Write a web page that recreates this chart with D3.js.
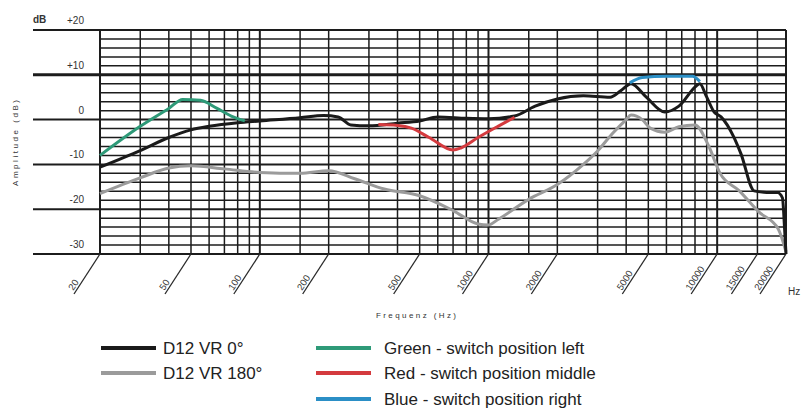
<!DOCTYPE html>
<html>
<head>
<meta charset="utf-8">
<script src="https://cdn.jsdelivr.net/npm/d3@7"></script>
<style>
  body { margin: 0; background: #fff; }
  text { font-family: "Liberation Sans", Arial, sans-serif; }
</style>
</head>
<body>
<svg id="chart" width="803" height="412"></svg>
<script>
// grid + tick labels
var gridFreqs = [20,30,40,50,60,70,80,90,100,150,200,300,400,500,600,700,800,900,
                 1000,1500,2000,3000,4000,5000,6000,7000,8000,9000,10000,15000,20000];
var freqLabels = [20,50,100,200,500,1000,2000,5000,10000,15000,20000];
var dbLabels = [20,10,0,-10,-20,-30];

// D12 VR 0 deg
var freq0 = [20,30,40,50,60,80,100,150,190,220,250,300,400,500,600,800,1000,1300,1600,2000,
             2600,3400,3800,4200,4900,5900,6800,8100,8400,8950,9700,10400,11800,12700,14500,
             16000,18400,19300,19700,20000];
var db0 = [-10.6,-6.9,-4,-2.3,-1.5,-0.7,-0.3,0.4,0.9,0.6,-1.2,-1.4,-0.8,-0.3,0.6,0.3,0.2,0.8,3,4.6,
           5.3,5,6.5,8,5,1.7,3,7.5,8,5.3,1.7,0.6,-3.8,-7.6,-15.9,
           -16.2,-16.3,-17.5,-24,-30];

// D12 VR 180 deg
var freq180 = [20,30,40,50,70,100,150,200,260,350,500,700,900,1000,1100,1500,2000,2600,3000,3500,
               4000,4200,4700,5100,5900,6800,8000,9200,10300,12500,15200,18500,20000];
var db180 = [-16.5,-13,-10.8,-10.3,-11,-11.8,-12,-11.4,-13.2,-15.5,-17,-20.3,-23.3,-23.5,-22.3,-17.8,-14.5,-10,-7,-3,
             0,1,0,-1.9,-2.8,-1.6,-1.2,-6,-12,-15.9,-20.6,-24.4,-29.5];

// switch positions
var freqGreen = [20,30,40,46,55,65,75,86];
var dbGreen = [-8,-1.5,2.5,4.5,4.3,2.5,0.8,-0.3];
var freqRed = [330,400,460,550,700,760,900,1100,1300];
var dbRed = [-1.1,-1.3,-1.9,-4,-6.8,-6.3,-4,-1.5,0.5];
var freqBlue = [4150,4700,6000,7800,8400];
var dbBlue = [8.2,9.4,9.7,9.7,8.5];

var legendKeys = ["D12 VR 0°", "D12 VR 180°", "Green - switch position left",
                  "Red - switch position middle", "Blue - switch position right"];

var svg = d3.select("#chart");

var x = d3.scaleLog().domain([20, 20000]).range([100, 786]);
var y = d3.scaleLinear().domain([-30, 20]).range([254, 30]);

var grid = svg.append("g").attr("stroke", "#1c1c1c");

// horizontal grid every 2 dB
grid.selectAll(".h")
  .data(d3.range(-30, 21, 2).filter(function(d) { return d % 10 != 0; }))
  .enter().append("line")
  .attr("x1", x(20)).attr("x2", x(20000))
  .attr("y1", function(d) { return y(d); })
  .attr("y2", function(d) { return y(d); })
  .attr("stroke-width", 1.5);

// vertical grid
grid.selectAll(".v")
  .data(gridFreqs)
  .enter().append("line")
  .attr("x1", function(d) { return x(d); })
  .attr("x2", function(d) { return x(d); })
  .attr("y1", y(20)).attr("y2", y(-30))
  .attr("stroke-width", function(d) { return (d == 20 || d == 100 || d == 1000 || d == 10000 || d == 20000) ? 2 : 1.5; });

// 10 dB lines, reaching out to the label column
grid.selectAll(".major")
  .data(dbLabels)
  .enter().append("line")
  .attr("x1", 33).attr("x2", x(20000))
  .attr("y1", function(d) { return y(d); })
  .attr("y2", function(d) { return y(d); })
  .attr("stroke-width", function(d) { return d == 10 ? 3 : 2; });

// y labels
svg.append("g")
  .attr("font-size", 10)
  .attr("fill", "#333")
  .attr("text-anchor", "end")
  .selectAll("text")
  .data(dbLabels)
  .enter().append("text")
  .attr("x", 84)
  .attr("y", function(d) { return y(d) - 6; })
  .text(function(d) { return d > 0 ? "+" + d : d; });

svg.append("text")
  .attr("x", 33).attr("y", 23)
  .attr("font-size", 10).attr("font-weight", "bold").attr("fill", "#333")
  .text("dB");

svg.append("text")
  .attr("transform", "translate(18,143) rotate(-90)")
  .attr("text-anchor", "middle")
  .attr("font-size", 8).attr("fill", "#333")
  .attr("textLength", 86).attr("lengthAdjust", "spacing")
  .text("Amplitude (dB)");

// slanted frequency ticks
var xt = svg.append("g").selectAll("g")
  .data(freqLabels)
  .enter().append("g")
  .attr("transform", function(d) { return "translate(" + x(d) + "," + y(-30) + ")"; });

xt.append("line")
  .attr("x1", 0).attr("y1", 0)
  .attr("x2", -26).attr("y2", 40)
  .attr("stroke", "#2a2a2a").attr("stroke-width", 1.3);

xt.append("text")
  .attr("transform", "translate(-25,38) rotate(-57)")
  .attr("y", -2)
  .attr("font-size", 9.5)
  .attr("fill", "#333")
  .text(function(d) { return d; });

svg.append("text")
  .attr("x", 788).attr("y", 295)
  .attr("font-size", 10).attr("fill", "#333")
  .text("Hz");

svg.append("text")
  .attr("x", 376).attr("y", 318)
  .attr("font-size", 8).attr("fill", "#333")
  .attr("textLength", 80).attr("lengthAdjust", "spacing")
  .text("Frequenz (Hz)");

// curves
var line = d3.line()
  .x(function(d) { return x(d[0]); })
  .y(function(d) { return y(d[1]); })
  .curve(d3.curveMonotoneX);

var series = [
  { f: freq180, v: db180, color: "#9b9b9b" },
  { f: freq0, v: db0, color: "#1a1a1a" },
  { f: freqGreen, v: dbGreen, color: "#2e9a78" },
  { f: freqRed, v: dbRed, color: "#d43a3e" },
  { f: freqBlue, v: dbBlue, color: "#2b8fc6" }
];

svg.append("g").selectAll("path")
  .data(series)
  .enter().append("path")
  .attr("d", function(s) { return line(d3.zip(s.f, s.v)); })
  .attr("fill", "none")
  .attr("stroke", function(s) { return s.color; })
  .attr("stroke-width", 3)
  .attr("stroke-linejoin", "round");

// legend
var legendColors = ["#1a1a1a", "#9b9b9b", "#2e9a78", "#d43a3e", "#2b8fc6"];
var legendX = [101, 101, 316, 316, 316];
var legendY = [348, 373, 348, 373, 399];

var legend = svg.append("g")
  .selectAll("g")
  .data(legendKeys)
  .enter().append("g")
  .attr("transform", function(d, i) { return "translate(" + legendX[i] + "," + legendY[i] + ")"; });

legend.append("line")
  .attr("x1", 0).attr("x2", 55)
  .attr("stroke", function(d, i) { return legendColors[i]; })
  .attr("stroke-width", 4);

legend.append("text")
  .attr("x", function(d, i) { return i < 2 ? 62 : 68; })
  .attr("dy", "0.35em")
  .attr("font-size", 17)
  .attr("fill", "#222")
  .text(function(d) { return d; });
</script>
</body>
</html>
